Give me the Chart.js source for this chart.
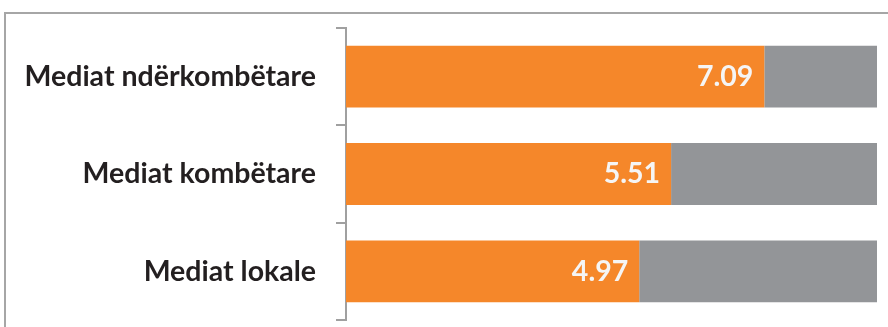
<!DOCTYPE html>
<html>
<head>
<meta charset="utf-8">
<script src="https://cdn.jsdelivr.net/npm/chart.js@4"></script>
<style>
  html, body { margin: 0; padding: 0; background: #fff; }
  #wrap { position: relative; width: 888px; height: 327px; overflow: hidden; }
  #frame { position: absolute; left: 4px; top: 12px; width: 900px; height: 400px; border: 2px solid #a6a6a6; box-sizing: border-box; }
  #chart { position: absolute; left: 0; top: 0; }
</style>
</head>
<body>
<div id="wrap">
  <div id="frame"></div>
  <canvas id="chart" width="888" height="327"></canvas>
</div>
<script>
var categories = ['Mediat ndërkombëtare', 'Mediat kombëtare', 'Mediat lokale'];
var scores = [7.09, 5.51, 4.97];
var scaleMax = 9;
var remainder = scores.map(function (v) { return +(scaleMax - v).toFixed(2); });

var valueLabels = {
  id: 'valueLabels',
  afterDatasetsDraw: function (chart) {
    var ctx = chart.ctx;
    var meta = chart.getDatasetMeta(0);
    ctx.save();
    ctx.font = 'bold 28.5px Lato';
    ctx.fillStyle = '#f5f5f5';
    ctx.textAlign = 'right';
    ctx.textBaseline = 'middle';
    meta.data.forEach(function (bar, i) {
      ctx.fillText(scores[i].toFixed(2), bar.x - 11, bar.y);
    });
    ctx.restore();
  }
};

var ctx = document.getElementById('chart').getContext('2d');
var chart = new Chart(ctx, {
  type: 'bar',
  data: {
    labels: categories,
    datasets: [
      { data: scores, backgroundColor: '#f5872a', categoryPercentage: 1, barPercentage: 0.635 },
      { data: remainder, backgroundColor: '#939598', categoryPercentage: 1, barPercentage: 0.635 }
    ]
  },
  options: {
    indexAxis: 'y',
    responsive: false,
    animation: false,
    layout: { padding: { left: 0, right: 11, top: 28, bottom: 7 } },
    plugins: { legend: { display: false }, tooltip: { enabled: false } },
    scales: {
      x: { stacked: true, display: false, min: 0, max: scaleMax },
      y: {
        stacked: true,
        afterFit: function (s) {
          s.width = 346;
          s.paddingTop = 0;
          s.paddingBottom = 0;
        },
        border: { display: true, color: '#a0a0a0', width: 2 },
        grid: { offset: true, drawOnChartArea: false, drawTicks: true, tickLength: 10, color: '#a0a0a0', lineWidth: 2 },
        ticks: { padding: 20, color: '#231f20', font: { family: 'Lato', weight: 'bold', size: 28.5 } }
      }
    }
  },
  plugins: [valueLabels]
});
</script>
</body>
</html>
